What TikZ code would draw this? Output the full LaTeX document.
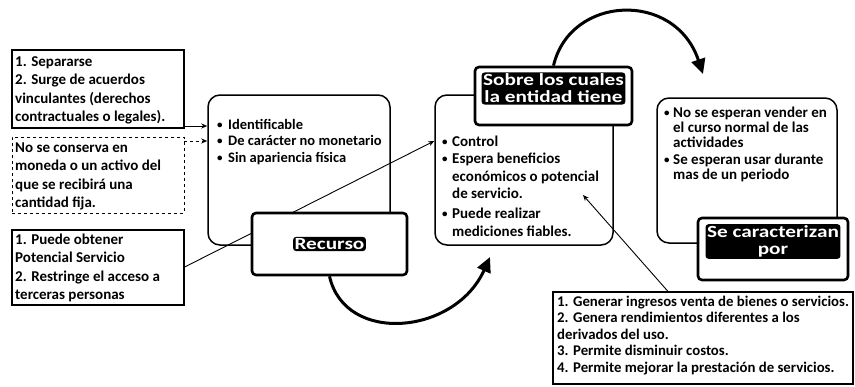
\documentclass[tikz,border=0pt]{standalone}
\usepackage{fontspec}
\setmainfont{Carlito}
\newfontfamily\wafont{Carlito}[FakeStretch=1.25]
\usetikzlibrary{arrows.meta}
\newcommand\tfs[2]{\fontsize{#1}{#2}\selectfont\bfseries}
\newcommand\bul[2]{\par\noindent\hangindent=#1\hangafter=1\makebox[#1][l]{\raisebox{0.8pt}{\fontsize{11}{11}\selectfont\textbullet}}#2\par}
\tikzset{
  sqbox/.style={draw, line width=1.3pt, inner sep=0pt},
  rbox/.style={draw, line width=1.5pt, rounded corners=12pt, inner sep=0pt},
  wabox/.style={draw, line width=2.6pt, rounded corners=4pt, fill=white, inner sep=0pt},
  watext/.style={fill=black, text=white, font=\wafont\bfseries\fontsize{17}{17}\selectfont,
    rounded corners=3pt, inner sep=1.5pt, align=center},
  txt/.style={anchor=base west, inner sep=0pt},
  thinarrow/.style={-{Stealth[length=6pt,width=5pt]}, line width=0.9pt},
  bigarrow/.style={-{Triangle[length=15pt,width=14pt]}, line width=3pt},
}
\begin{document}
\begin{tikzpicture}[x=1pt,y=-1pt]
\useasboundingbox (0,0) rectangle (855,386);
\fill[white] (0,0) rectangle (855,386);

% left boxes
\node[sqbox, minimum width=172, minimum height=78] (boxA) at (98,89) {};
\node[txt] (boxAt) at (15,66) {\parbox[t]{168pt}{\tfs{15}{18.5}1. Separarse\\2. Surge de acuerdos\\vinculantes (derechos\\contractuales o legales).}};

\node[sqbox, dashed, line width=0.9pt, minimum width=172, minimum height=76] (boxB) at (98,175) {};
\node[txt] (boxBt) at (15,152.5) {\parbox[t]{168pt}{\tfs{15}{18.3}No se conserva en\\moneda o un activo del\\que se recibirá una\\cantidad fija.}};

\node[sqbox, minimum width=172, minimum height=75] (boxC) at (98,267.5) {};
\node[txt] (boxCt) at (15,244.5) {\parbox[t]{168pt}{\tfs{15}{18.3}1. Puede obtener\\Potencial Servicio\\2. Restringe el acceso a\\terceras personas}};

% rounded box 1
\node[rbox, minimum width=182, minimum height=150] (rb1) at (299,170) {};
\node[txt] (rb1t) at (217,129) {\parbox[t]{170pt}{\tfs{14.5}{16.5}%
  \bul{11pt}{Identificable}\bul{11pt}{De carácter no monetario}\bul{11pt}{Sin apariencia física}}};

% rounded box 2 + Sobre
\node[rbox, minimum width=178, minimum height=150] (rb2) at (524,170) {};
\node[txt] (rb2t) at (442,146) {\parbox[t]{168pt}{\tfs{15}{17.5}%
  \bul{10pt}{Control}\bul{10pt}{Espera beneficios\\económicos o potencial\\de servicio.}\vspace{2.5pt}%
  \bul{10pt}{Puede realizar\\mediciones fiables.}}};
\node[wabox, minimum width=157, minimum height=58] (sobre) at (553.5,96) {};
\node[watext] (sobret) at (553.5,88.5) {Sobre los cuales\\la entidad tiene};

% connector from box C, hidden behind the Recurso box
\draw[thinarrow] (boxC.east |- 0,267) -- (rb2.west |- 0,141);

% Recurso
\node[wabox, minimum width=155, minimum height=62] (rec) at (329.5,244) {};
\node[watext] (rect) at (329.5,244) {Recurso};

% rounded box 3 + Se caracterizan
\node[rbox, minimum width=180, minimum height=145] (rb3) at (747,170.5) {};
\node[txt] (rb3t) at (664,117.5) {\parbox[t]{172pt}{\tfs{15}{15}%
  \bul{9pt}{No se esperan vender en\\el curso normal de las\\actividades}\vspace{1.5pt}%
  \bul{9pt}{Se esperan usar durante\\mas de un periodo}}};
\node[wabox, minimum width=150, minimum height=62] (secar) at (773,249) {};
\node[watext] (secart) at (773,241.5) {Se caracterizan\\por};

% bottom box
\node[sqbox, line width=1.1pt, minimum width=300, minimum height=92] (boxD) at (703,338) {};
\node[txt] (boxDt) at (557,306) {\parbox[t]{298pt}{\tfs{14.8}{16.5}1. Generar ingresos venta de bienes o servicios.\\2. Genera rendimientos diferentes a los\\derivados del uso.\\3. Permite disminuir costos.\\4. Permite mejorar la prestación de servicios.}};

% connectors
\coordinate (rbtwoP) at (583,195);
\coordinate (topTip) at (703,74);
\coordinate (botTip) at (490,257);
\draw[thinarrow] (boxA.east |- 0,126) -- (rb1.west |- 0,126);
\draw[thinarrow, dashed] (boxB.east |- 0,141) -- (rb1.west |- 0,141);
\draw[thinarrow] (boxD.north -| 668,0) -- (rbtwoP);
\draw[bigarrow] (sobre.north) .. controls (570,-5) and (675,-10) .. (topTip);
\draw[bigarrow] (rec.south) .. controls (345,345) and (455,335) .. (botTip);
\end{tikzpicture}
\end{document}
